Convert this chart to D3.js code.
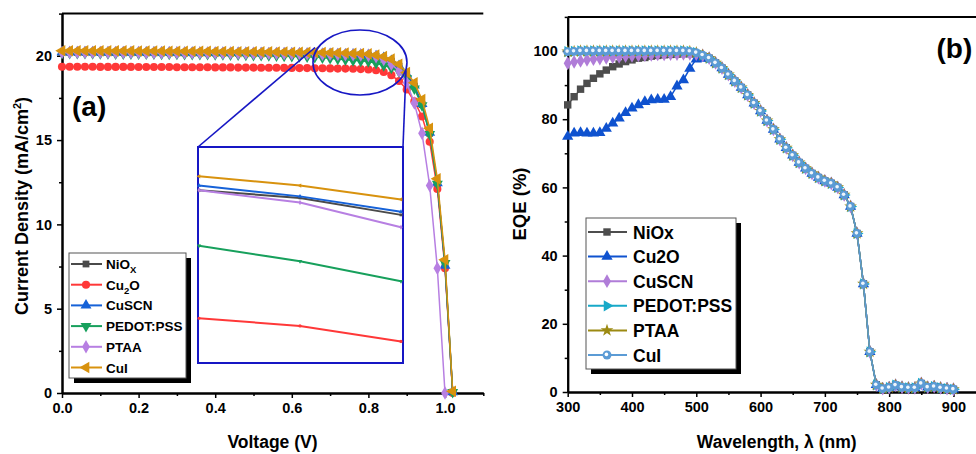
<!DOCTYPE html>
<html>
<head>
<meta charset="utf-8">
<script src="https://cdn.jsdelivr.net/npm/d3@7"></script>
<style>
body { margin: 0; background: #fff; }
svg { display: block; font-family: "Liberation Sans", Arial, sans-serif; font-weight: bold; }
</style>
</head>
<body>
<script>
// ---------- panel (a): J-V curves ----------
const voltage = [0.00,0.02,0.04,0.06,0.08,0.10,0.12,0.14,0.16,0.18,0.20,0.22,0.24,0.26,0.28,0.30,0.32,0.34,0.36,0.38,
  0.40,0.42,0.44,0.46,0.48,0.50,0.52,0.54,0.56,0.58,0.60,0.62,0.64,0.66,0.68,0.70,0.72,0.74,0.76,0.78,
  0.80,0.82,0.84,0.86,0.88,0.90,0.92,0.94,0.96,0.98,1.00,1.02];

const jNiOx = [20.20,20.20,20.20,20.20,20.20,20.19,20.19,20.19,20.19,20.19,
  20.19,20.18,20.18,20.18,20.18,20.18,20.17,20.17,20.17,20.17,
  20.16,20.16,20.16,20.15,20.15,20.15,20.14,20.14,20.13,20.13,
  20.12,20.12,20.11,20.11,20.10,20.09,20.08,20.07,20.06,20.05,
  20.02,19.97,19.86,19.68,19.38,18.88,18.20,17.10,15.40,12.40,
  7.60,0.05];
const jCu2O = [19.35,19.35,19.35,19.35,19.35,19.34,19.34,19.34,19.34,19.34,
  19.33,19.33,19.33,19.33,19.33,19.32,19.32,19.32,19.32,19.32,
  19.31,19.31,19.31,19.30,19.30,19.30,19.29,19.29,19.29,19.28,
  19.28,19.27,19.27,19.26,19.26,19.25,19.24,19.24,19.23,19.21,
  19.19,19.14,19.04,18.85,18.50,18.00,17.30,16.40,14.90,12.10,
  7.40,0.00];
const jCuSCN = [20.22,20.22,20.22,20.22,20.22,20.21,20.21,20.21,20.21,20.21,
  20.20,20.20,20.20,20.20,20.20,20.19,20.19,20.19,20.19,20.18,
  20.18,20.18,20.17,20.17,20.17,20.16,20.16,20.15,20.15,20.15,
  20.14,20.14,20.13,20.13,20.12,20.11,20.10,20.09,20.08,20.07,
  20.05,19.98,19.88,19.70,19.40,18.90,18.25,17.15,15.45,12.45,
  7.55,0.05];
const jPEDOT = [20.15,20.15,20.15,20.15,20.14,20.14,20.14,20.13,20.13,20.13,
  20.12,20.12,20.12,20.11,20.11,20.11,20.10,20.10,20.09,20.09,
  20.08,20.08,20.07,20.06,20.05,20.04,20.03,20.02,20.01,19.99,
  19.97,19.96,19.94,19.92,19.89,19.85,19.81,19.77,19.73,19.70,
  19.66,19.56,19.43,19.28,19.05,18.65,18.05,17.05,15.35,12.40,
  7.70,0.05];
const jPTAA = [20.20,20.20,20.20,20.20,20.20,20.20,20.19,20.19,20.19,20.19,
  20.19,20.18,20.18,20.18,20.18,20.18,20.17,20.17,20.17,20.17,
  20.16,20.16,20.16,20.15,20.15,20.15,20.14,20.14,20.13,20.13,
  20.12,20.12,20.11,20.10,20.09,20.08,20.07,20.06,20.05,20.04,
  20.02,19.94,19.78,19.50,19.10,18.40,17.20,15.40,12.30,7.40,
  0.00,null];
const jCuI = [20.30,20.30,20.30,20.30,20.30,20.29,20.29,20.29,20.29,20.29,
  20.28,20.28,20.28,20.28,20.27,20.27,20.27,20.27,20.26,20.26,
  20.25,20.25,20.25,20.24,20.24,20.24,20.23,20.23,20.22,20.22,
  20.21,20.21,20.20,20.20,20.19,20.18,20.17,20.16,20.14,20.13,
  20.11,20.05,19.96,19.80,19.50,19.00,18.40,17.40,15.70,12.70,
  7.90,0.10];

const insetV = [0.80, 0.84];       // voltage window shown in the zoom box
const insetJ = [18.9, 20.3];       // current window shown in the zoom box

const xTicksA = [0, 0.2, 0.4, 0.6, 0.8, 1.0];
const xMinorA = [0.1, 0.3, 0.5, 0.7, 0.9, 1.1];
const yTicksA = [0, 5, 10, 15, 20];
const yMinorA = [2.5, 7.5, 12.5, 17.5, 22.5];

// ---------- panel (b): EQE ----------
const wavelength = [300,310,320,330,340,350,360,370,380,390,400,410,420,430,440,450,460,470,480,490,
  500,510,520,530,540,550,560,570,580,590,600,610,620,630,640,650,660,670,680,690,
  700,710,720,730,740,750,760,770,780,790,800,810,820,830,840,850,860,870,880,890,900];

// 300-510 nm, where the curves differ
const eqeNiOxHead  = [84.2,86.6,88.8,90.5,92.0,93.3,94.4,95.4,96.2,96.9,97.4,97.9,98.1,98.5,98.7,98.9,99.0,99.1,99.2,99.2,99.0,98.6];
const eqeCu2OHead  = [74.9,75.9,76.0,75.9,75.9,76.0,77.3,78.8,80.3,81.9,83.2,84.2,85.1,85.6,85.8,85.8,86.6,89.7,91.5,94.9,97.6,97.8];
const eqeCuSCNHead = [96.4,96.8,97.1,97.4,97.6,97.8,98.0,98.2,98.3,98.5,98.6,98.7,98.8,98.9,99.0,99.0,99.1,99.1,99.2,99.2,99.1,98.7];
const eqePEDOTHead = [99.8,99.9,100,100,100,100,100,100,100,100,100,100,100,100,100,100,100,100,100,99.9,99.5,98.8];
const eqePTAAHead  = [99.8,99.9,100,100,100,100,100,100,100,100,100,100,100,100,100,100,100,100,100,99.9,99.5,98.8];
const eqeCuIHead   = [99.8,99.9,100,100,100,100,100,100,100,100,100,100,100,100,100,100,100,100,100,99.9,99.5,98.8];
// 520-900 nm, where all six curves coincide
const eqeTail = [97.9,96.5,95.0,93.1,91.2,89.3,87.1,84.7,82.4,79.6,77.0,74.1,71.6,69.4,67.3,65.6,64.1,62.9,61.9,61.2,
  60.0,57.8,54.4,46.5,31.7,11.8,2.1,1.0,1.3,2.0,1.4,1.2,1.2,2.5,1.4,1.6,1.2,1.0,0.8];

const xTicksB = [300, 400, 500, 600, 700, 800, 900];
const xMinorB = [350, 450, 550, 650, 750, 850, 950];
const yTicksB = [0, 20, 40, 60, 80, 100];
const yMinorB = [10, 30, 50, 70, 90, 110];

// ---------- styles ----------
const seriesA = [
  { label: ["NiO", "X", ""], j: jNiOx,  color: "#4a4a4a", sym: d3.symbolSquare,   rot: 0,   size: 46 },
  { label: ["Cu", "2", "O"], j: jCu2O,  color: "#ff3838", sym: d3.symbolCircle,   rot: 0,   size: 52 },
  { label: ["CuSCN"],        j: jCuSCN, color: "#1662d8", sym: d3.symbolTriangle, rot: 0,   size: 52 },
  { label: ["PEDOT:PSS"],    j: jPEDOT, color: "#17a05c", sym: d3.symbolTriangle, rot: 180, size: 52 },
  { label: ["PTAA"],         j: jPTAA,  color: "#b77fe2", sym: d3.symbolDiamond,  rot: 0,   size: 52 },
  { label: ["CuI"],          j: jCuI,   color: "#d8920e", sym: d3.symbolTriangle, rot: -90, size: 58 }
];
const seriesB = [
  { label: "NiOx",      v: eqeNiOxHead.concat(eqeTail),  color: "#4d4d4d", sym: d3.symbolSquare,   rot: 0,  size: 55 },
  { label: "Cu2O",      v: eqeCu2OHead.concat(eqeTail),  color: "#0f52cf", sym: d3.symbolTriangle, rot: 0,  size: 55 },
  { label: "CuSCN",     v: eqeCuSCNHead.concat(eqeTail), color: "#b07dd8", sym: d3.symbolDiamond,  rot: 0,  size: 55 },
  { label: "PEDOT:PSS", v: eqePEDOTHead.concat(eqeTail), color: "#17a9c8", sym: d3.symbolTriangle, rot: 90, size: 55 },
  { label: "PTAA",      v: eqePTAAHead.concat(eqeTail),  color: "#9c8a12", sym: d3.symbolStar,     rot: 0,  size: 50 },
  { label: "CuI",       v: eqeCuIHead.concat(eqeTail),   color: "#5b9bd5", sym: d3.symbolCircle,   rot: 0,  size: 62 }
];
const inkBlue = "#1717c4";

const width = 976, height = 454;
const svg = d3.select("body").append("svg")
  .attr("width", width)
  .attr("height", height)
  .attr("viewBox", [0, 0, width, height]);

const xA = d3.scaleLinear([0, 1.1], [62, 483.3]);
const yA = d3.scaleLinear([0, 22.5], [393, 13.6]);
const xB = d3.scaleLinear([300, 950], [567.7, 985.6]);
const yB = d3.scaleLinear([0, 110], [392, 16.9]);

function drawAxes(x, y, xt, xm, yt, ym, xf, rightEdge) {
  const g = svg.append("g");
  const y0 = y.range()[0], x0 = x.range()[0], yTop = y.range()[1];
  g.append("line").attr("x1", x0).attr("x2", rightEdge).attr("y1", yTop).attr("y2", yTop)
    .attr("stroke", "#000").attr("stroke-width", 2);
  g.append("g").attr("transform", `translate(0,${y0})`)
    .call(d3.axisBottom(x).tickValues(xm).tickSize(3).tickFormat("").tickSizeOuter(0));
  g.append("g").attr("transform", `translate(0,${y0})`)
    .call(d3.axisBottom(x).tickValues(xt).tickSize(5).tickPadding(5).tickFormat(xf).tickSizeOuter(0));
  g.append("g").attr("transform", `translate(${x0},0)`)
    .call(d3.axisLeft(y).tickValues(ym).tickSize(3).tickFormat("").tickSizeOuter(0));
  g.append("g").attr("transform", `translate(${x0},0)`)
    .call(d3.axisLeft(y).tickValues(yt).tickSize(5).tickPadding(5).tickFormat(d3.format("d")).tickSizeOuter(0));
  g.selectAll(".domain").attr("stroke-width", 2);
  g.selectAll(".tick line").attr("stroke-width", 1.5);
  g.selectAll(".tick text").attr("font-size", 14.5).attr("font-weight", "bold")
    .attr("font-family", '"Liberation Sans", Arial, sans-serif').attr("fill", "#000");
}

function drawSeries(g, pts, x, y, s, lw) {
  const line = d3.line().defined(d => d[1] != null).x(d => x(d[0])).y(d => y(d[1]));
  g.append("path").attr("fill", "none").attr("stroke", s.color).attr("stroke-width", lw)
    .attr("d", line(pts));
  g.append("g").selectAll("path")
    .data(pts.filter(d => d[1] != null))
    .join("path")
    .attr("transform", d => `translate(${x(d[0])},${y(d[1])}) rotate(${s.rot})`)
    .attr("d", d3.symbol(s.sym, s.size))
    .attr("fill", s.color);
}

// ---------- panel (a) ----------
drawAxes(xA, yA, xTicksA, xMinorA, yTicksA, yMinorA, d3.format(".1f"), 483.3);

const plotA = svg.append("g");
seriesA.forEach(s => drawSeries(plotA, voltage.map((v, i) => [v, s.j[i]]), xA, yA, s, 1.5));

// zoom ellipse and connectors
const ell = { cx: xA(0.778), cy: yA(19.6), rx: 47, ry: 32.5 };
const box = { x0: 198, x1: 403, y0: 147, y1: 363 };
svg.append("ellipse").attr("cx", ell.cx).attr("cy", ell.cy).attr("rx", ell.rx).attr("ry", ell.ry)
  .attr("fill", "none").attr("stroke", inkBlue).attr("stroke-width", 1.6);
svg.append("line").attr("x1", ell.cx - 45).attr("y1", ell.cy - 15).attr("x2", box.x0).attr("y2", box.y0)
  .attr("stroke", inkBlue).attr("stroke-width", 1.6);
svg.append("line").attr("x1", ell.cx + 46).attr("y1", ell.cy + 8).attr("x2", box.x1).attr("y2", box.y0)
  .attr("stroke", inkBlue).attr("stroke-width", 1.6);

// inset
svg.append("rect").attr("x", box.x0).attr("y", box.y0)
  .attr("width", box.x1 - box.x0).attr("height", box.y1 - box.y0)
  .attr("fill", "#fff").attr("stroke", inkBlue).attr("stroke-width", 2);
const xI = d3.scaleLinear(insetV, [box.x0 + 1, box.x1 - 2]);
const yI = d3.scaleLinear(insetJ, [box.y1, box.y0]);
const plotI = svg.append("g");
seriesA.forEach(s => {
  const pts = voltage.map((v, i) => [v, s.j[i]])
    .filter(d => d[0] >= insetV[0] - 1e-9 && d[0] <= insetV[1] + 1e-9);
  drawSeries(plotI, pts, xI, yI, { ...s, size: 8 }, 2);
});

// legend (a)
const legA = { x: 69, y: 253, w: 117, h: 125, dy: 20.7 };
svg.append("rect").attr("x", legA.x + 5).attr("y", legA.y + 5).attr("width", legA.w).attr("height", legA.h)
  .attr("fill", "#000");
svg.append("rect").attr("x", legA.x).attr("y", legA.y).attr("width", legA.w).attr("height", legA.h)
  .attr("fill", "#fff").attr("stroke", "#555").attr("stroke-width", 1);
seriesA.forEach((s, i) => {
  const cy = legA.y + 11 + i * legA.dy;
  svg.append("line").attr("x1", legA.x + 2).attr("x2", legA.x + 33).attr("y1", cy).attr("y2", cy)
    .attr("stroke", s.color).attr("stroke-width", 2);
  svg.append("path").attr("transform", `translate(${legA.x + 17},${cy}) rotate(${s.rot})`)
    .attr("d", d3.symbol(s.sym, s.size)).attr("fill", s.color);
  const t = svg.append("text").attr("x", legA.x + 37).attr("y", cy + 5).attr("font-size", 13.5);
  t.append("tspan").text(s.label[0]);
  if (s.label.length > 1) {
    t.append("tspan").attr("dy", 4).attr("font-size", 9.5).text(s.label[1]);
    t.append("tspan").attr("dy", -4).text(s.label[2]);
  }
});

svg.append("text").attr("x", 72).attr("y", 116).attr("font-size", 28).text("(a)");
svg.append("text").attr("x", 272.5).attr("y", 448).attr("text-anchor", "middle")
  .attr("font-size", 17.5).text("Voltage (V)");
const yTitleA = svg.append("text").attr("transform", "translate(28,206) rotate(-90)")
  .attr("text-anchor", "middle").attr("font-size", 18);
yTitleA.append("tspan").text("Current Density (mA/cm");
yTitleA.append("tspan").attr("dy", -7).attr("font-size", 11).text("2");
yTitleA.append("tspan").attr("dy", 7).text(")");

// ---------- panel (b) ----------
drawAxes(xB, yB, xTicksB, xMinorB, yTicksB, yMinorB, d3.format("d"), 976);

const plotB = svg.append("g");
seriesB.forEach(s => {
  const pts = wavelength.map((w, i) => [w, s.v[i]]);
  drawSeries(plotB, pts, xB, yB, s, 1.5);
  if (s.label === "CuI") {
    plotB.append("g").selectAll("circle").data(pts).join("circle")
      .attr("cx", d => xB(d[0]) - 0.6).attr("cy", d => yB(d[1]) - 0.6).attr("r", 1.8)
      .attr("fill", "#fff").attr("opacity", 0.9);
  }
});

// legend (b)
const legB = { x: 586, y: 218, w: 150, h: 151, dy: 24.6 };
svg.append("rect").attr("x", legB.x + 5).attr("y", legB.y + 5).attr("width", legB.w).attr("height", legB.h)
  .attr("fill", "#000");
svg.append("rect").attr("x", legB.x).attr("y", legB.y).attr("width", legB.w).attr("height", legB.h)
  .attr("fill", "#fff").attr("stroke", "#555").attr("stroke-width", 1);
seriesB.forEach((s, i) => {
  const cy = legB.y + 14 + i * legB.dy;
  svg.append("line").attr("x1", legB.x + 2).attr("x2", legB.x + 41).attr("y1", cy).attr("y2", cy)
    .attr("stroke", s.color).attr("stroke-width", 2);
  svg.append("path").attr("transform", `translate(${legB.x + 21},${cy}) rotate(${s.rot})`)
    .attr("d", d3.symbol(s.sym, s.size)).attr("fill", s.color);
  if (s.label === "CuI") {
    svg.append("circle").attr("cx", legB.x + 20.4).attr("cy", cy - 0.6).attr("r", 1.8).attr("fill", "#fff");
  }
  svg.append("text").attr("x", legB.x + 47).attr("y", cy + 6.5).attr("font-size", 17.5).text(s.label);
});

svg.append("text").attr("x", 936.5).attr("y", 57.5).attr("font-size", 28).text("(b)");
svg.append("text").attr("x", 776.7).attr("y", 448).attr("text-anchor", "middle")
  .attr("font-size", 17.5).text("Wavelength, λ (nm)");
svg.append("text").attr("transform", "translate(526,204) rotate(-90)")
  .attr("text-anchor", "middle").attr("font-size", 18.5).text("EQE (%)");
</script>
</body>
</html>
